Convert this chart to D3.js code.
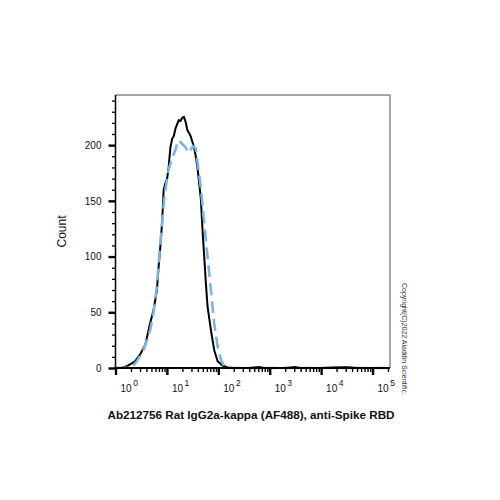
<!DOCTYPE html>
<html>
<head>
<meta charset="utf-8">
<script src="https://cdn.jsdelivr.net/npm/d3@7"></script>
<style>
  html, body { margin: 0; padding: 0; background: #fff; }
  text { font-family: "Liberation Sans", Arial, sans-serif; }
</style>
</head>
<body>
<svg id="chart" width="500" height="500"></svg>
<script>
// ---- data ----
const sampleX = [1.3,1.65,2.4,3.0,3.8,4.7,5.5,6.4,6.9,7.45,8.05,8.65,9.34,10.1,10.8,11.7,12.7,13.6,14.7,15.9,17.1,18.4,19.9,21.4,23.1,25,26.9,29,31.3,33.7,36.4,39.3,42.4,45.7,49.3,53.2,57.3,61.8,71.8,83.3,97,122,153,200,400,600,800,2000,3000,4000,10000,30000,50000,100000,218000];
const sampleCount = [0,1.5,6,12,21,40,52,70,91,109,130,160,166,170,180,198,206,208,215,219,222.5,221.6,224.5,225.4,221,213.5,211,208,203,198,190,180,166,152,124,100,76,55,34,16,6,2,0.5,0,0,1,0,0,1,0,0,0.8,0,0,0];

const isotypeX = [1,1.65,2.2,2.6,3.5,4.73,5.5,6.4,7.2,8.05,8.8,9.34,10.1,10.8,12.6,14.7,15.9,17.1,19.9,23.1,26,29,32,36.4,39.3,45.7,53.2,61.8,71.8,83.3,97.3,113,131,153,300,1000,5000,20000,80000,218000];
const isotypeCount = [0,0.5,2,6,16,34,50,74,104,130,150,160,170,178,188,196,202,204.5,201,198,193,196,199,197,185,162,130,100,70,40,19,7.4,1.5,0,0,0,0,0,0,0];

const yTickValues = [0,50,100,150,200];
const xDecades = [0,1,2,3,4,5];
const yTitle = "Count";
const xTitle = "Ab212756 Rat IgG2a-kappa (AF488), anti-Spike RBD";
const copyright = "Copyright(C)2022 Aladdin Scientific.";

// ---- layout ----
const L = 115.5, R = 390, T = 95, B = 368;
const svg = d3.select("#chart");

const x = d3.scaleLog().domain([1, Math.pow(10, 5.34)]).range([L, R]);
const y = d3.scaleLinear().domain([0, 245]).range([B, T]);

// frame top & right (grey)
svg.append("line").attr("x1", L).attr("x2", R).attr("y1", T).attr("y2", T)
  .attr("stroke", "#888").attr("stroke-width", 1.5);
svg.append("line").attr("x1", R).attr("x2", R).attr("y1", T).attr("y2", B)
  .attr("stroke", "#888").attr("stroke-width", 1.5);

// curves
const line = d3.line().x(d => x(d[0])).y(d => y(d[1])).curve(d3.curveLinear);
const isoData = isotypeX.map((v, i) => [v, isotypeCount[i]]);
const samData = sampleX.map((v, i) => [v, sampleCount[i]]);

svg.append("path").datum(samData).attr("d", line)
  .attr("fill", "none").attr("stroke", "#000").attr("stroke-width", 2)
  .attr("stroke-linejoin", "round");
svg.append("path").datum(isoData).attr("d", line)
  .attr("fill", "none").attr("stroke", "#7ab4e6").attr("stroke-width", 2.6)
  .attr("stroke-dasharray", "12,6");

// y axis
const yMinor = d3.range(0, 241, 10);
const yAxis = d3.axisLeft(y).tickValues(yMinor).tickSize(3).tickSizeOuter(0)
  .tickFormat(d => yTickValues.includes(d) ? d : "");
const gy = svg.append("g").attr("transform", `translate(${L},0)`).call(yAxis);
gy.select(".domain").attr("stroke", "#000").attr("stroke-width", 1.5)
  .attr("d", `M0,${T}V${B}`);
gy.selectAll(".tick line").attr("stroke", "#000")
  .attr("stroke-width", d => yTickValues.includes(d) ? 2.4 : 1.3)
  .attr("x2", d => yTickValues.includes(d) ? -7 : -3.5);
gy.selectAll(".tick text").attr("x", -14).attr("font-size", 10)
  .attr("fill", "#111").attr("font-family", "Liberation Sans, Arial, sans-serif");

// x axis
const xMajor = xDecades.map(d => Math.pow(10, d));
const xMinor = [];
xDecades.forEach(d => { for (let k = 2; k <= 9; k++) { const v = k * Math.pow(10, d); if (v <= x.domain()[1]) xMinor.push(v); } });
const xAll = xMajor.concat(xMinor).sort((a, b) => a - b);
const isMajor = v => xMajor.some(m => Math.abs(m - v) < 1e-9 * m);
const xAxis = d3.axisBottom(x).tickValues(xAll).tickSizeOuter(0).tickFormat("");
const gx = svg.append("g").attr("transform", `translate(0,${B})`).call(xAxis);
gx.select(".domain").attr("stroke", "#000").attr("stroke-width", 2)
  .attr("d", `M${L - 1},0H${R}`);
gx.selectAll(".tick line").attr("stroke", "#000")
  .attr("stroke-width", d => isMajor(d) ? 2.4 : 1.4)
  .attr("y2", d => isMajor(d) ? 7 : 4);
gx.selectAll(".tick text").remove();

// x tick labels 10^n
const lab = svg.append("g");
xDecades.forEach(d => {
  const t = lab.append("text").attr("x", x(Math.pow(10, d)) + 5).attr("y", 392)
    .attr("font-size", 10).attr("fill", "#111");
  t.append("tspan").text("10");
  t.append("tspan").attr("dx", 1.5).attr("dy", -6).attr("font-size", 8.5).text(d);
});

// titles
svg.append("text").attr("transform", `translate(66,${(T + B) / 2}) rotate(-90)`)
  .attr("text-anchor", "middle").attr("font-size", 12).attr("fill", "#111").text(yTitle);
svg.append("text").attr("x", 251).attr("y", 418.5).attr("text-anchor", "middle")
  .attr("font-size", 11.7).attr("font-weight", "bold").attr("fill", "#111").text(xTitle);
svg.append("text").attr("transform", `translate(401.5,283) rotate(90)`)
  .attr("font-size", 7).attr("fill", "#333").text(copyright);
</script>
</body>
</html>
